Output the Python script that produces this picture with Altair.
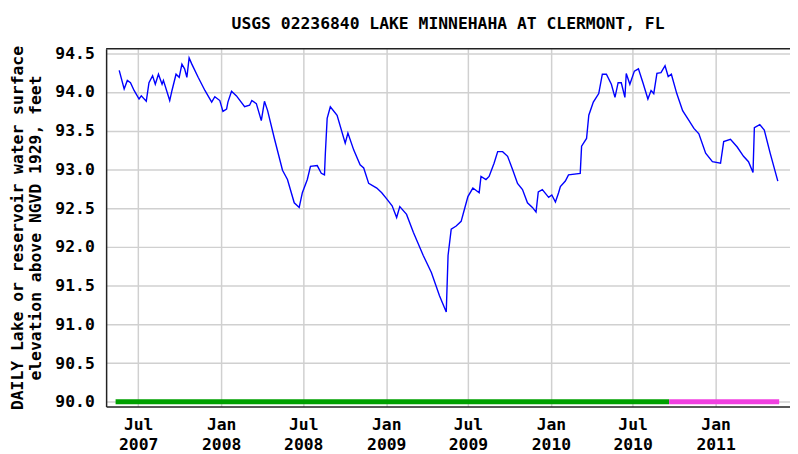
import altair as alt
import pandas as pd

TITLE = "USGS 02236840 LAKE MINNEHAHA AT CLERMONT, FL"
Y_TITLE = ["DAILY Lake or reservoir water surface", "elevation above NGVD 1929, feet"]

line_dates = [
    "2007-05-20", "2007-05-31", "2007-06-07", "2007-06-14", "2007-06-22", "2007-07-03",
    "2007-07-08", "2007-07-19", "2007-07-25", "2007-08-02", "2007-08-08", "2007-08-15",
    "2007-08-23", "2007-08-26", "2007-09-09", "2007-09-14", "2007-09-23", "2007-09-30",
    "2007-10-06", "2007-10-12", "2007-10-17", "2007-10-22", "2007-10-28", "2007-11-11",
    "2007-11-26", "2007-12-11", "2007-12-18", "2007-12-29", "2008-01-05", "2008-01-13",
    "2008-01-16", "2008-01-24", "2008-02-04", "2008-02-22", "2008-03-04", "2008-03-09",
    "2008-03-19", "2008-03-30", "2008-04-06", "2008-04-13", "2008-04-28", "2008-05-16",
    "2008-05-27", "2008-06-11", "2008-06-22", "2008-06-29", "2008-07-10", "2008-07-17",
    "2008-08-01", "2008-08-10", "2008-08-17", "2008-08-19", "2008-08-23", "2008-08-30",
    "2008-09-14", "2008-10-02", "2008-10-08", "2008-10-21", "2008-11-04", "2008-11-12",
    "2008-11-23", "2008-12-11", "2008-12-22", "2009-01-02", "2009-01-14", "2009-01-24",
    "2009-01-31", "2009-02-15", "2009-03-02", "2009-03-24", "2009-04-11", "2009-04-29",
    "2009-05-14", "2009-05-18", "2009-05-25", "2009-06-05", "2009-06-16", "2009-06-23",
    "2009-07-01", "2009-07-12", "2009-07-26", "2009-07-30", "2009-08-10", "2009-08-17",
    "2009-08-28", "2009-09-05", "2009-09-16", "2009-09-27", "2009-10-08", "2009-10-19",
    "2009-10-30", "2009-11-10", "2009-11-21", "2009-11-29", "2009-12-04", "2009-12-13",
    "2009-12-27", "2010-01-03", "2010-01-11", "2010-01-18", "2010-01-22", "2010-02-02",
    "2010-02-09", "2010-03-07", "2010-03-10", "2010-03-21", "2010-03-26", "2010-04-05",
    "2010-04-17", "2010-04-25", "2010-05-04", "2010-05-15", "2010-05-23", "2010-05-30",
    "2010-06-06", "2010-06-14", "2010-06-17", "2010-06-25", "2010-07-05", "2010-07-14",
    "2010-07-24", "2010-08-04", "2010-08-11", "2010-08-17", "2010-08-24", "2010-09-02",
    "2010-09-11", "2010-09-18", "2010-09-25", "2010-10-07", "2010-10-20", "2010-10-31",
    "2010-11-14", "2010-11-25", "2010-12-10", "2010-12-25", "2011-01-12", "2011-01-19",
    "2011-02-03", "2011-02-18", "2011-03-04", "2011-03-15", "2011-03-25", "2011-03-28",
    "2011-04-09", "2011-04-19", "2011-05-02", "2011-05-19",
]
line_levels = [
    94.28, 94.04, 94.15, 94.12, 94.02, 93.91,
    93.95, 93.88, 94.12, 94.21, 94.10, 94.23,
    94.10, 94.15, 93.89, 94.02, 94.23, 94.19,
    94.36, 94.30, 94.19, 94.44, 94.36, 94.19,
    94.02, 93.87, 93.94, 93.89, 93.75, 93.78,
    93.87, 94.01, 93.95, 93.81, 93.83, 93.89,
    93.85, 93.63, 93.88, 93.76, 93.40, 92.99,
    92.87, 92.57, 92.51, 92.70, 92.87, 93.04,
    93.05, 92.95, 92.93, 93.21, 93.66, 93.81,
    93.70, 93.34, 93.47, 93.25, 93.06, 93.02,
    92.82, 92.76, 92.70, 92.62, 92.53, 92.38,
    92.52, 92.42, 92.19, 91.89, 91.67, 91.37,
    91.16, 91.89, 92.23, 92.27, 92.33, 92.48,
    92.65, 92.76, 92.70, 92.91, 92.87, 92.91,
    93.08, 93.23, 93.23, 93.17, 93.00, 92.82,
    92.74, 92.57, 92.51, 92.45, 92.71, 92.74,
    92.64, 92.67, 92.58, 92.70, 92.78, 92.85,
    92.93, 92.95, 93.30, 93.40, 93.70, 93.87,
    93.98, 94.23, 94.23, 94.10, 93.93, 94.12,
    94.12, 93.93, 94.24, 94.10, 94.27, 94.30,
    94.12, 93.91, 94.02, 93.98, 94.24, 94.25,
    94.34, 94.20, 94.23, 93.98, 93.76, 93.66,
    93.53, 93.46, 93.21, 93.10, 93.08, 93.36,
    93.39, 93.29, 93.17, 93.10, 92.96, 93.54,
    93.58, 93.51, 93.21, 92.85,
]

status_names = ["Approved", "Provisional"]
status_start = ["2007-05-12", "2010-09-20"]
status_end = ["2010-09-20", "2011-05-22"]
status_level = [90.0, 90.0]

y_ticks = [90.0, 90.5, 91.0, 91.5, 92.0, 92.5, 93.0, 93.5, 94.0, 94.5]
x_ticks = [(2007, 7), (2008, 1), (2008, 7), (2009, 1), (2009, 7), (2010, 1), (2010, 7), (2011, 1)]

line_df = pd.DataFrame({"date": line_dates, "level": line_levels})
status_df = pd.DataFrame({"name": status_names, "start": status_start,
                          "end": status_end, "level": status_level})

FONT = "DejaVu Sans Mono"
x_scale = alt.Scale(type="utc",
                    domain=[alt.DateTime(year=2007, month=4, date=21, utc=True),
                            alt.DateTime(year=2011, month=6, date=15, utc=True)])
y_scale = alt.Scale(domain=[89.94, 94.56], zero=False, nice=False)

x_axis = alt.Axis(
    title=None,
    values=[alt.DateTime(year=y, month=m, date=1, utc=True) for y, m in x_ticks],
    labelExpr="[utcFormat(datum.value, '%b'), utcFormat(datum.value, '%Y')]",
    labelBaseline="top", labelLineHeight=20, labelPadding=10,
    labelAlign="center",
)
y_axis = alt.Axis(
    title=Y_TITLE, values=y_ticks, format=".1f",
    labelPadding=12, titleX=-97, titleY=180.5, titleAngle=270,
    titleAlign="center", titleBaseline="top", titleLineHeight=18,
)

bars = alt.Chart(status_df).mark_rule(strokeWidth=5).encode(
    x=alt.X("start:T", scale=x_scale, axis=x_axis),
    x2="end:T",
    y=alt.Y("level:Q", scale=y_scale, axis=y_axis),
    color=alt.Color("name:N", scale=alt.Scale(domain=status_names,
                                              range=["#00a000", "#f040e0"]), legend=None),
)

line = alt.Chart(line_df).mark_line(color="#0000ff", strokeWidth=1.4).encode(
    x=alt.X("date:T", scale=x_scale, axis=x_axis),
    y=alt.Y("level:Q", scale=y_scale, axis=y_axis),
)

frame_top = alt.Chart(pd.DataFrame({"k": [0]})).mark_rule(
    color="#222222", strokeWidth=1.5).encode(y=alt.value(0))

chart = alt.layer(bars, line, frame_top).properties(
    width=690, height=361,
    autosize=alt.AutoSizeParams(type="none"),
    padding={"left": 99, "top": 39, "right": 0, "bottom": 50},
    title=alt.TitleParams(TITLE, font=FONT, fontSize=16.5, fontWeight="bold",
                          color="#000000", anchor="middle", offset=0,
                          baseline="alphabetic"),
).configure_view(stroke=None).configure_axis(
    labelFont=FONT, labelFontSize=16.5, labelFontWeight="bold", labelColor="#000000",
    titleFont=FONT, titleFontSize=16.5, titleFontWeight="bold", titleColor="#000000",
    gridColor="#d0d0d0", gridWidth=1.5, domainColor="#222222", domainWidth=1.5,
    ticks=False,
)

chart.save("out.html", embed_options={"renderer": "svg", "actions": False})
